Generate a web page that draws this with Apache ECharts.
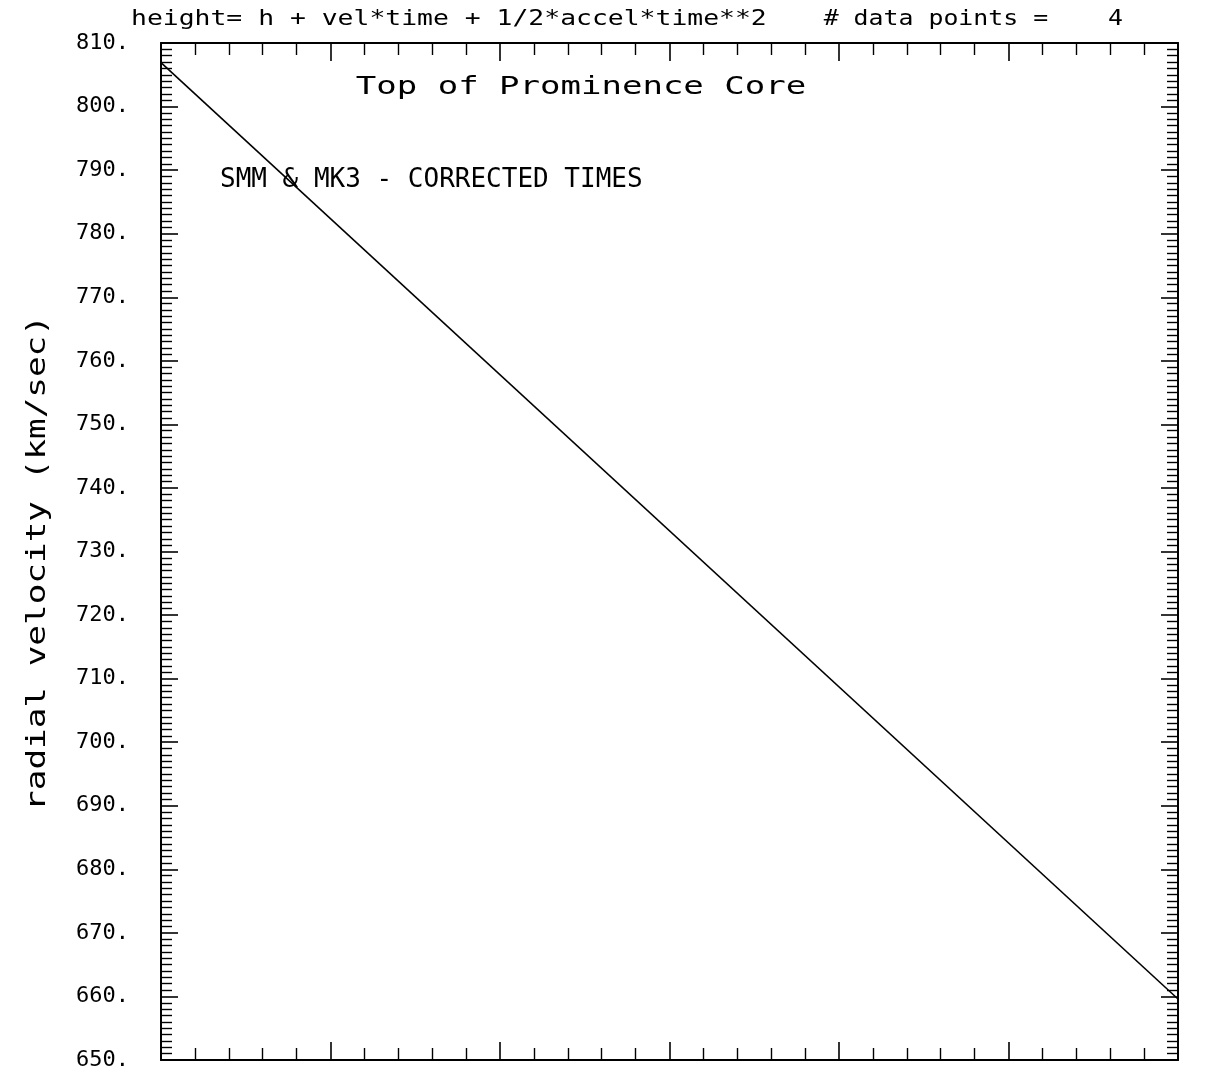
<!DOCTYPE html>
<html>
<head>
<meta charset="utf-8">
<script src="https://cdn.jsdelivr.net/npm/echarts@6/dist/echarts.min.js"></script>
<style>
  html, body { margin: 0; padding: 0; background: #fff; }
  #chart { width: 1227px; height: 1074px; }
</style>
</head>
<body>
<div id="chart"></div>
<script>
// ---- data ----
const fitTime = [0, 6];                 // x extent of fitted curve (axis units, unlabeled)
const fitVelocity = [806.9, 659.6];     // radial velocity at the two ends (km/sec)
const yRange = [650, 810];
const yStep = 10;
const headerFormula = 'height= h + vel*time + 1/2*accel*time**2';
const headerPoints = '# data points =    4';
const plotTitle = 'Top of Prominence Core';
const plotNote = 'SMM & MK3 - CORRECTED TIMES';
const yName = 'radial velocity (km/sec)';

const MONO = '"DejaVu Sans Mono", "Liberation Mono", monospace';
const chart = echarts.init(document.getElementById('chart'), null, { renderer: 'canvas' });

const lineData = fitTime.map((t, i) => [t, fitVelocity[i]]);

function xAx(pos) {
  return {
    type: 'value', position: pos, min: 0, max: 6, interval: 1,
    axisLine: { show: true, onZero: false, lineStyle: { color: '#000', width: 2 } },
    axisTick: { show: true, inside: true, length: 18, lineStyle: { color: '#000', width: 1.6 } },
    minorTick: { show: true, splitNumber: 5, length: 12, lineStyle: { color: '#000', width: 1.4 } },
    axisLabel: { show: false },
    splitLine: { show: false },
    minorSplitLine: { show: false }
  };
}
function yAx(pos, labels) {
  return {
    type: 'value', position: pos, min: yRange[0], max: yRange[1], interval: yStep,
    axisLine: { show: true, onZero: false, lineStyle: { color: '#000', width: 2 } },
    axisTick: { show: true, inside: true, length: 17, lineStyle: { color: '#000', width: 1.6 } },
    minorTick: { show: true, splitNumber: 10, length: 11, lineStyle: { color: '#000', width: 1.4 } },
    axisLabel: labels ? {
      show: true, margin: 32, color: '#000', fontFamily: MONO, fontSize: 22,
      formatter: v => v + '.'
    } : { show: false },
    splitLine: { show: false },
    minorSplitLine: { show: false }
  };
}

chart.setOption({
  animation: false,
  backgroundColor: '#fff',
  grid: { left: 161, right: 49, top: 43, bottom: 14, containLabel: false },
  xAxis: [xAx('bottom'), xAx('top')],
  yAxis: [yAx('left', true), yAx('right', false)],
  series: [{
    type: 'line',
    xAxisIndex: 0, yAxisIndex: 0,
    data: lineData,
    symbol: 'none',
    lineStyle: { color: '#000', width: 1.6 }
  }],
  graphic: [
    { type: 'text', x: 131, y: 19, scaleX: 1.2,
      style: { text: headerFormula, font: '22px ' + MONO, fill: '#000', textAlign: 'left', textVerticalAlign: 'middle' } },
    { type: 'text', x: 1123, y: 19, scaleX: 1.13,
      style: { text: headerPoints, font: '22px ' + MONO, fill: '#000', textAlign: 'right', textVerticalAlign: 'middle' } },
    { type: 'text', x: 581, y: 87, scaleX: 1.36,
      style: { text: plotTitle, font: '25px ' + MONO, fill: '#000', textAlign: 'center', textVerticalAlign: 'middle' } },
    { type: 'text', x: 220, y: 180, scaleX: 1.0,
      style: { text: plotNote, font: '26px ' + MONO, fill: '#000', textAlign: 'left', textVerticalAlign: 'middle' } },
    { type: 'text', x: 38, y: 563, rotation: Math.PI / 2, scaleX: 1.32,
      style: { text: yName, font: '26px ' + MONO, fill: '#000', textAlign: 'center', textVerticalAlign: 'middle' } }
  ]
});
</script>
</body>
</html>
